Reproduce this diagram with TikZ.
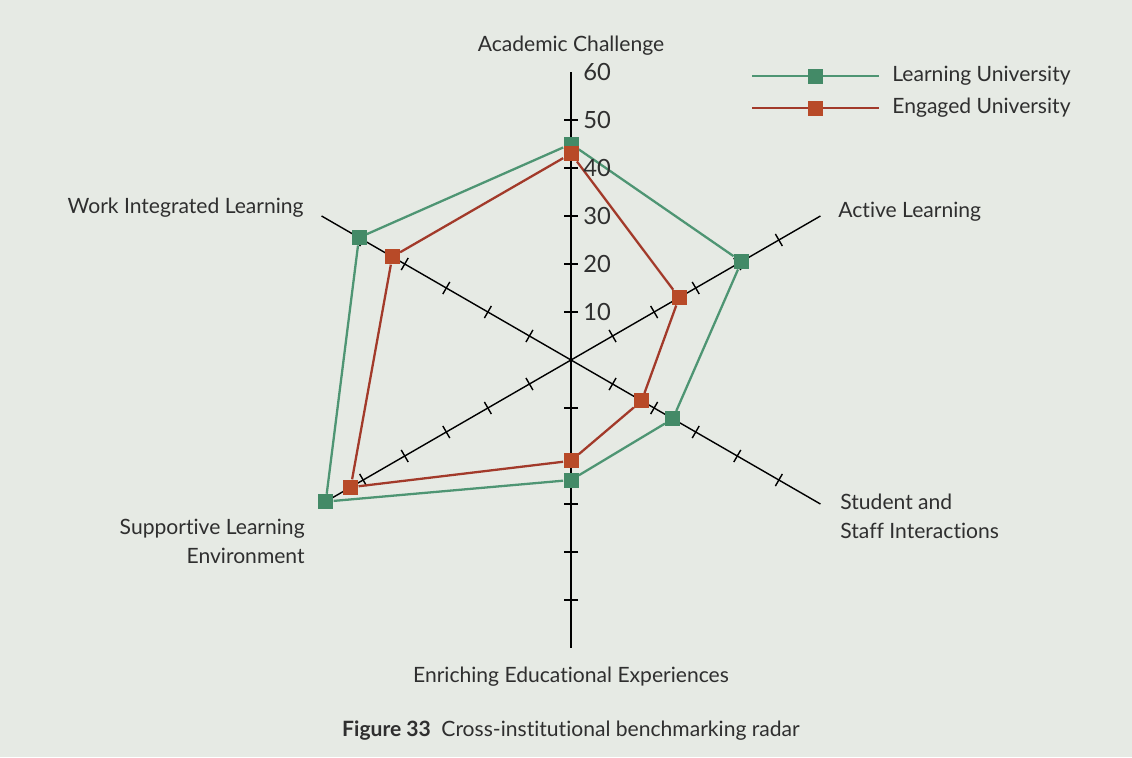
\documentclass[tikz,border=0pt]{standalone}
\usepackage{fontspec}
\setmainfont{Lato}[Ligatures=NoCommon]
\usetikzlibrary{positioning}
\definecolor{bgc}{HTML}{E6EAE4}
\definecolor{lugreen}{HTML}{438A67}
\definecolor{lugreenline}{HTML}{4E9573}
\definecolor{eured}{HTML}{B84A28}
\definecolor{euredline}{HTML}{A23A2A}
\definecolor{txt}{HTML}{2F2F2F}
\tikzstyle{axis} = [draw=black, line width=0.8pt]
\tikzstyle{lumark} = [rectangle, fill=lugreen, minimum size=0.3cm, inner sep=0pt]
\tikzstyle{eumark} = [rectangle, fill=eured, minimum size=0.3cm, inner sep=0pt]
\tikzstyle{luline} = [draw=lugreenline, line width=1.3pt]
\tikzstyle{euline} = [draw=euredline, line width=1.3pt]
\tikzstyle{lbl} = [font=\fontsize{12}{16.5}\selectfont, text=txt, inner sep=0pt]
\tikzstyle{scl} = [font=\fontsize{13.5}{16}\selectfont, text=txt, inner sep=0pt]

\begin{document}
\begin{tikzpicture}
  % Hintergrund
  \fill[bgc] (0,0) rectangle (22.64,15.14);
  \useasboundingbox (0,0) rectangle (22.64,15.14);
  \coordinate (o) at (11.42,7.94);

  \begin{scope}[shift={(o)}]
    % Achsen
    \coordinate (ac) at (90:5.76);
    \coordinate (al) at (30:5.76);
    \coordinate (ssi) at (-30:5.76);
    \coordinate (eee) at (-90:5.76);
    \coordinate (sle) at (210:5.76);
    \coordinate (wil) at (150:5.76);
    \draw[axis] (ac) -- (eee);
    \draw[axis] (al) -- (sle);
    \draw[axis] (wil) -- (ssi);
    \foreach \a in {30,90,150,210,270,330}
      \foreach \r in {0.96,1.92,2.88,3.84,4.8}
        \draw[axis] (\a:\r) ++(\a+90:0.14) -- ++(\a-90:0.28);

    % Learning University
    \node[lumark] (lu1) at (90:4.32) {};
    \node[lumark] (lu2) at (30:3.936) {};
    \node[lumark] (lu3) at (-30:2.352) {};
    \node[lumark] (lu4) at (-90:2.40) {};
    \node[lumark] (lu5) at (210:5.664) {};
    \node[lumark] (lu6) at (150:4.896) {};
    \draw[luline] (lu1) -- (lu2) -- (lu3) -- (lu4) -- (lu5) -- (lu6) -- (lu1);

    % Engaged University
    \node[eumark] (eu1) at (90:4.128) {};
    \node[eumark] (eu2) at (30:2.496) {};
    \node[eumark] (eu3) at (-30:1.632) {};
    \node[eumark] (eu4) at (-90:2.016) {};
    \node[eumark] (eu5) at (210:5.088) {};
    \node[eumark] (eu6) at (150:4.128) {};
    \draw[euline] (eu1) -- (eu2) -- (eu3) -- (eu4) -- (eu5) -- (eu6) -- (eu1);

    % Skala
    \foreach \v [count=\k] in {10,20,30,40,50,60}
      \node[scl, anchor=west] (s\v) at (0.24,0.96*\k) {\v};
  \end{scope}

  % Achsenbeschriftungen
  \node[lbl] (acl) at (11.42,14.22) {Academic Challenge};
  \node[lbl, anchor=west] (all) at (16.76,10.90) {Active Learning};
  \node[lbl, anchor=west, align=left] (ssil) at (16.8,4.81) {Student and\\Staff Interactions};
  \node[lbl] (eeel) at (11.42,1.60) {Enriching Educational Experiences};
  \node[lbl, anchor=east, align=right] (slel) at (6.1,4.31) {Supportive Learning\\Environment};
  \node[lbl, anchor=east] (will) at (6.08,10.98) {Work Integrated Learning};

  % Legende
  \coordinate (lg1a) at (15.04,13.62);
  \coordinate (lg1b) at (17.58,13.62);
  \coordinate (lg2a) at (15.04,12.98);
  \coordinate (lg2b) at (17.58,12.98);
  \draw[luline] (lg1a) -- (lg1b);
  \draw[euline] (lg2a) -- (lg2b);
  \node[lumark] (lgm1) at (16.30,13.62) {};
  \node[eumark] (lgm2) at (16.30,12.98) {};
  \node[lbl, anchor=west, right=0.26 of lg1b] (lgt1) {Learning University};
  \node[lbl, anchor=west, right=0.26 of lg2b] (lgt2) {Engaged University};

  % Bildunterschrift
  \node[lbl] (cap) at (11.42,0.52) {\textbf{Figure 33}\enspace Cross-institutional benchmarking radar};
\end{tikzpicture}
\end{document}
